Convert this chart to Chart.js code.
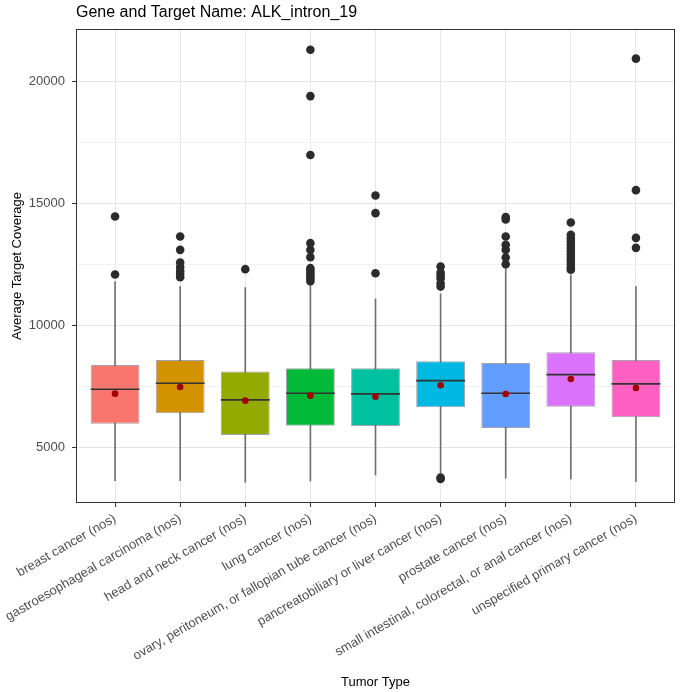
<!DOCTYPE html>
<html>
<head>
<meta charset="utf-8">
<script src="https://cdn.jsdelivr.net/npm/chart.js@4"></script>
<style>
  html, body { margin: 0; padding: 0; background: #fff; }
  #wrap { width: 680px; height: 692px; }
</style>
</head>
<body>
<div id="wrap"><canvas id="myChart" width="680" height="692"></canvas></div>
<script>
const categories = [
  'breast cancer (nos)',
  'gastroesophageal carcinoma (nos)',
  'head and neck cancer (nos)',
  'lung cancer (nos)',
  'ovary, peritoneum, or fallopian tube cancer (nos)',
  'pancreatobiliary or liver cancer (nos)',
  'prostate cancer (nos)',
  'small intestinal, colorectal, or anal cancer (nos)',
  'unspecified primary cancer (nos)'
];

const q1 = [5983, 6410, 5520, 5902, 5889, 6656, 5807, 6680, 6246];
const medians = [7393, 7639, 6955, 7229, 7200, 7746, 7229, 7992, 7611];
const q3 = [8389, 8594, 8115, 8254, 8254, 8540, 8471, 8909, 8594];
const means = [7213, 7487, 6927, 7131, 7090, 7557, 7200, 7815, 7446];
const whiskerLow = [3648, 3648, 3582, 3635, 3881, 3950, 3746, 3717, 3607];
const whiskerHigh = [11800, 11598, 11557, 11668, 11094, 11300, 12352, 12077, 11598];

const outliers = [
  [12090, 14466],
  [11983, 12110, 12241, 12400, 12581, 13102, 13647],
  [12311],
  [11820, 11942, 12050, 12147, 12250, 12352, 12803, 13102, 13376, 16987, 19400, 21298],
  [12147, 14606, 15327],
  [3720, 3780, 11598, 11737, 11942, 12050, 12174, 12420],
  [12515, 12786, 13102, 13307, 13647, 14350, 14450],
  [12290, 12393, 12520, 12663, 12780, 12897, 13030, 13170, 13300, 13442, 13580, 13716, 14221],
  [13184, 13594, 15548, 20933]
];

const yTicks = [5000, 7500, 10000, 12500, 15000, 17500, 20000];

const colors = ['#F8766D', '#D39200', '#93AA00', '#00BA38', '#00C19F', '#00B9E3', '#619CFF', '#DB72FB', '#FF61C3'];

const outlierPoints = [];
outliers.forEach((list, i) => list.forEach(v => outlierPoints.push({x: i, y: v})));

// panel border + title drawn at the panel's left edge, like ggplot
const panelPlugin = {
  id: 'panel',
  afterDraw(chart) {
    const {ctx, chartArea: a} = chart;
    ctx.save();
    ctx.strokeStyle = '#333333';
    ctx.lineWidth = 1;
    ctx.strokeRect(a.left + 0.5, a.top + 0.5, a.right - a.left - 1, a.bottom - a.top - 1);
    ctx.fillStyle = '#000';
    ctx.font = '16px "Liberation Sans", Arial, sans-serif';
    ctx.textBaseline = 'alphabetic';
    ctx.textAlign = 'left';
    ctx.fillText('Gene and Target Name: ALK_intron_19', a.left, 17);
    ctx.restore();
  }
};

const config = {
  type: 'bar',
  data: {
    datasets: [
      {
        type: 'bar',
        data: categories.map((c, i) => ({x: i, y: [whiskerLow[i], whiskerHigh[i]]})),
        backgroundColor: '#707070',
        barThickness: 1,
        grouped: false,
        order: 5
      },
      {
        type: 'bar',
        data: categories.map((c, i) => ({x: i, y: [q1[i], q3[i]]})),
        backgroundColor: colors,
        borderColor: 'rgba(90,90,110,0.55)',
        borderWidth: 1,
        borderSkipped: false,
        categoryPercentage: 1,
        barPercentage: 0.75,
        grouped: false,
        order: 4
      },
      {
        type: 'scatter',
        data: categories.map((c, i) => ({x: i, y: medians[i]})),
        pointStyle: 'line',
        pointRadius: 24.4,
        borderColor: '#333333',
        borderWidth: 1.7,
        order: 3
      },
      {
        type: 'scatter',
        data: outlierPoints,
        pointRadius: 4.3,
        backgroundColor: '#2b2b2b',
        borderWidth: 0,
        order: 2
      },
      {
        type: 'scatter',
        data: categories.map((c, i) => ({x: i, y: means[i]})),
        pointRadius: 3.3,
        backgroundColor: '#a30000',
        borderWidth: 0,
        order: 1
      }
    ]
  },
  options: {
    responsive: false,
    animation: false,
    events: [],
    layout: { autoPadding: false, padding: { left: 0, top: 29, right: 5, bottom: 0 } },
    plugins: { legend: { display: false }, tooltip: { enabled: false }, title: { display: false } },
    scales: {
      x: {
        type: 'linear',
        min: -0.6,
        max: 8.6,
        offset: false,
        afterBuildTicks: axis => { axis.ticks = categories.map((c, i) => ({value: i})); },
        afterFit: scale => { scale.height = 189; scale.paddingLeft = 0; scale.paddingRight = 0; },
        grid: { offset: false, color: '#e6e6e6', lineWidth: 1, tickLength: 4, tickColor: '#333333', tickWidth: 1 },
        border: { display: false },
        ticks: {
          autoSkip: false,
          minRotation: 30,
          maxRotation: 30,
          padding: 4,
          color: '#4d4d4d',
          font: { family: '"Liberation Sans", Arial, sans-serif', size: 13 },
          callback: v => categories[v]
        },
        title: {
          display: true,
          text: 'Tumor Type',
          color: '#000',
          font: { family: '"Liberation Sans", Arial, sans-serif', size: 13 },
          padding: { top: 0, bottom: 2 }
        }
      },
      y: {
        min: 2734,
        max: 22148,
        afterBuildTicks: axis => { axis.ticks = yTicks.map(v => ({value: v})); },
        afterFit: scale => { scale.width = 76; scale.paddingTop = 0; scale.paddingBottom = 0; },
        grid: {
          color: c => (c.tick && c.tick.value % 5000 === 0) ? '#e4e4e4' : '#f1f1f1',
          lineWidth: 1,
          tickLength: 4,
          tickColor: c => (c.tick && c.tick.value % 5000 === 0) ? '#333333' : 'rgba(0,0,0,0)',
          tickWidth: 1
        },
        border: { display: false },
        ticks: {
          padding: 7,
          color: '#4d4d4d',
          font: { family: '"Liberation Sans", Arial, sans-serif', size: 13 },
          callback: v => (v % 5000 === 0 ? String(v) : '')
        },
        title: {
          display: true,
          text: 'Average Target Coverage',
          color: '#000',
          font: { family: '"Liberation Sans", Arial, sans-serif', size: 13 },
          padding: { top: 10, bottom: 0 }
        }
      }
    }
  },
  plugins: [panelPlugin]
};

const myChart = new Chart(document.getElementById('myChart'), config);
</script>
</body>
</html>
